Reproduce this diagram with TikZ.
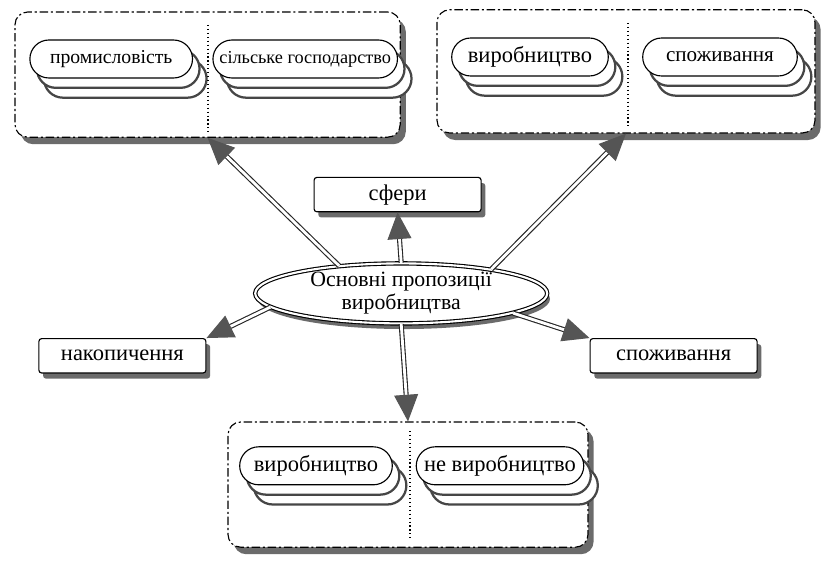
\documentclass[tikz,border=0pt]{standalone}
\usepackage{fontspec}
\setmainfont{Liberation Serif}
\usepackage{tikz}
\usetikzlibrary{arrows.meta, shapes.geometric, shapes.misc, shadows}
\definecolor{shadegray}{RGB}{70, 70, 70}
\definecolor{tipgray}{RGB}{85, 85, 85}

\tikzset{
  grpbox/.style={draw, thick, fill=white, rounded corners=9pt,
    dash pattern=on 6pt off 2pt on 1.5pt off 2pt,
    drop shadow={shadow xshift=4pt, shadow yshift=-5pt, fill=shadegray, opacity=0.8}},
  oval/.style={rounded rectangle, draw, thick, fill=white, minimum height=0.95cm,
    font=\fontsize{16}{18}\selectfont,
    double copy shadow={shadow xshift=5pt, shadow yshift=-7pt, draw=shadegray, line width=1.6pt}},
  tagbox/.style={rectangle, draw, thick, fill=white, rounded corners=2pt,
    minimum width=4.175cm, minimum height=0.86cm,
    font=\fontsize{16}{18}\selectfont,
    drop shadow={shadow xshift=3pt, shadow yshift=-4pt, fill=shadegray, opacity=0.8}},
  hub/.style={ellipse, draw, thick, double, double distance=1.5pt, fill=white,
    minimum width=7.3cm, minimum height=1.5cm,
    drop shadow={shadow xshift=2pt, shadow yshift=-4pt, fill=shadegray, opacity=0.8}},
  link/.style={draw=black!85, double=white, double distance=2pt, thick,
    -{Triangle[length=19pt, width=17pt, color=tipgray]}},
  divider/.style={draw, thick, dotted}
}

\begin{document}
\begin{tikzpicture}
    \useasboundingbox (0,0) rectangle (20.55,14.075);

    % group frames
    \node[grpbox, minimum width=9.63cm, minimum height=3.13cm] (tl) at (5.19,12.21) {};
    \node[grpbox, minimum width=9.45cm, minimum height=3.08cm] (tr) at (15.65,12.29) {};
    \node[grpbox, minimum width=9.0cm, minimum height=3.13cm] (bt) at (10.2,1.96) {};

    % ovals
    \node[oval, minimum width=4.3cm, font=\fontsize{14}{16}\selectfont] (industry) at (2.78,12.6) {промисловість};
    \node[oval, minimum width=4.6cm, font=\fontsize{13}{15}\selectfont] (farming) at (7.63,12.6) {сільське господарство};
    \node[oval, minimum width=4.15cm] (prodtop) at (13.25,12.65) {виробництво};
    \node[oval, minimum width=4.1cm, font=\fontsize{15}{17}\selectfont] (constop) at (18.0,12.65) {споживання};
    \node[oval, minimum width=4.05cm] (prodbot) at (7.9,2.43) {виробництво};
    \node[oval, minimum width=4.0cm] (nonprod) at (12.5,2.43) {не виробництво};

    \draw[divider] (5.2,13.45) -- (5.2,10.75);
    \draw[divider] (15.7,13.5) -- (15.7,10.85);
    \draw[divider] (10.25,3.3) -- (10.25,0.55);

    % centre
    \node[hub] (hub) at (10.03,6.74) {};
    \node[align=center, font=\fontsize{15.5}{16.5}\selectfont] (hubtxt) at (hub) {Основні пропозиції\\виробництва};

    \node[tagbox] (sf) at (9.94,9.21) {сфери};
    \node[tagbox] (nak) at (3.06,5.18) {накопичення};
    \node[tagbox] (spo) at (16.84,5.18) {споживання};

    % arrows
    \draw[link] (hub.156) -- (tl.south);
    \draw[link] (hub.15) -- (tr.south);
    \draw[link] (hub.north) -- (sf.south);
    \draw[link] (hub.186) -- (nak.north east);
    \draw[link] (hub.-10) -- (spo.north west);
    \draw[link] (hub.south) -- (bt.north);
\end{tikzpicture}
\end{document}
